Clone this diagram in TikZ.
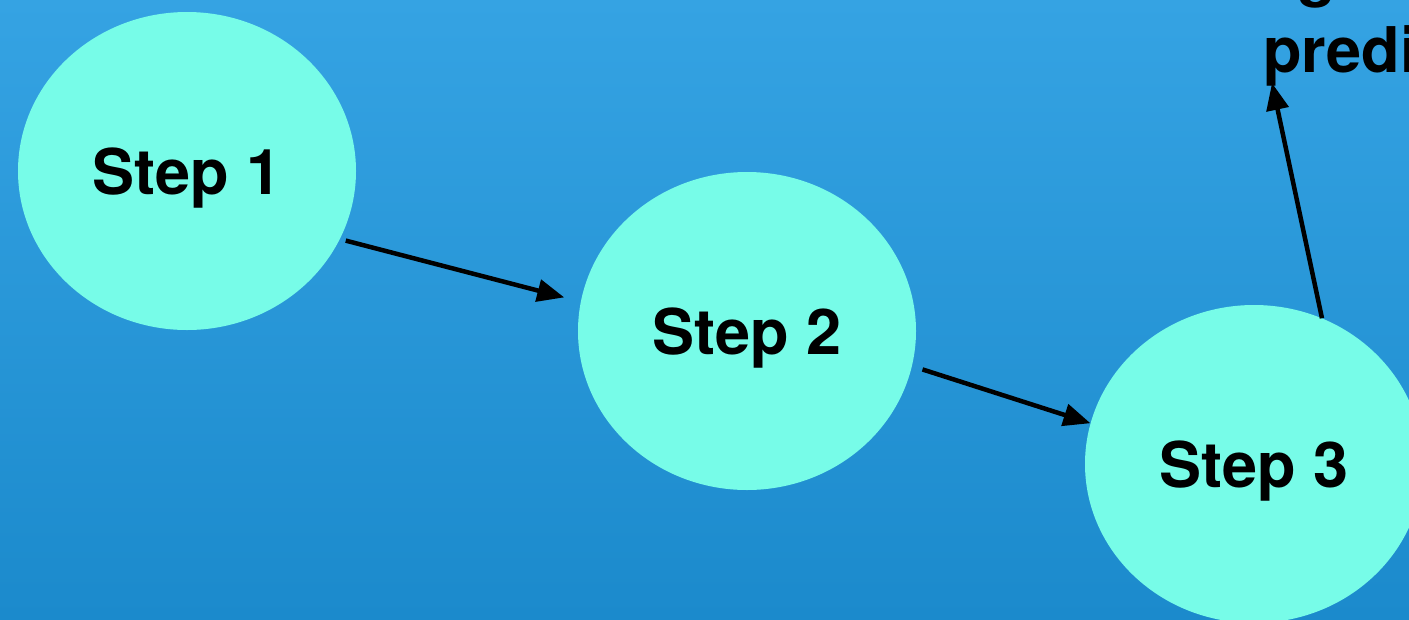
\documentclass[tikz,border=0pt]{standalone}
\usepackage{fontspec}
\setmainfont{TeX Gyre Heros}
\usetikzlibrary{arrows.meta,shapes.geometric}
\definecolor{skytop}{HTML}{35A3E3}
\definecolor{skybot}{HTML}{1B8ACC}
\definecolor{mint}{HTML}{77FCE8}
\tikzset{
    stepnode/.style={
           ellipse,
           fill=mint,
           inner sep=0pt,
           minimum width=338pt,
           minimum height=318pt,
           font=\fontsize{63}{70}\selectfont\bfseries,
           text depth=0pt,
           },
    outtext/.style={
           inner sep=0pt,
           anchor=base west,
           font=\fontsize{63}{70}\selectfont\bfseries,
           },
    flow/.style={-{Triangle[length=27pt,width=22pt]}, line width=4.5pt},
}

\begin{document}
\begin{tikzpicture}[x=1pt,y=-1pt]
	\useasboundingbox (0,0) rectangle (1409,619);
	\clip (0,0) rectangle (1409,619);
	\shade[top color=skytop,bottom color=skybot] (0,0) rectangle (1409,619);

	\node[stepnode] (S1) at (187,171)  {Step 1};
	\node[stepnode] (S2) at (747,331)  {Step 2};
	\node[stepnode] (S3) at (1254,464) {Step 3};

	% output label, runs off the top right edge
	\node[outtext] (outg) at (1297,-6) {g};
	\node[outtext] (outp) at (1263,72) {predi};
	\coordinate (out) at (1272,83);

	\path[flow] (S1.-24) edge [shorten <=6pt, shorten >=17pt] (S2.170);
	\path[flow] (S2.-12) edge [shorten <=11pt, shorten >=0pt] (S3.166);
	\path[flow] (S3.65) edge (out);
\end{tikzpicture}
\end{document}
